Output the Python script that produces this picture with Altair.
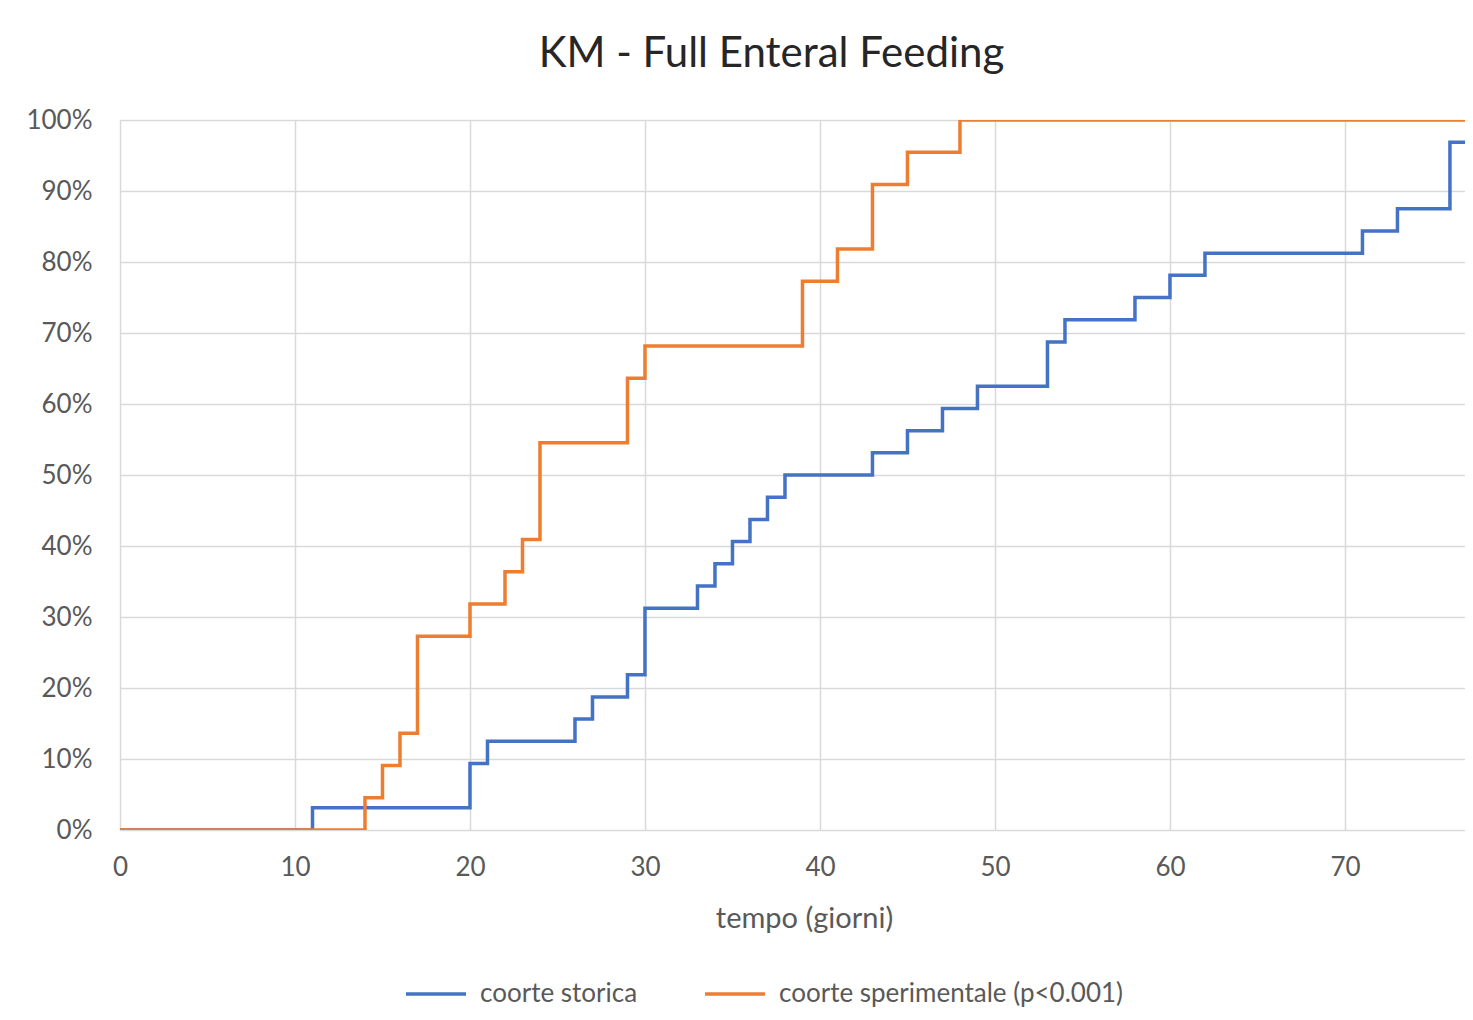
import altair as alt
import pandas as pd

# Kaplan-Meier cumulative incidence (step-after)
storica_days = [0, 11, 20, 21, 26, 27, 29, 30, 33, 34, 35, 36, 37, 38, 43, 45, 47, 49, 53, 54, 58, 60, 62, 71, 73, 76, 78]
storica_pct = [0.0, 3.125, 9.375, 12.5, 15.625, 18.75, 21.875, 31.25, 34.375, 37.5, 40.625, 43.75, 46.875, 50.0,
               53.125, 56.25, 59.375, 62.5, 68.75, 71.875, 75.0, 78.125, 81.25, 84.375, 87.5, 96.875, 96.875]

sperim_days = [0, 14, 15, 16, 17, 20, 22, 23, 24, 29, 30, 39, 41, 43, 45, 48, 78]
sperim_pct = [0.0, 4.545, 9.091, 13.636, 27.273, 31.818, 36.364, 40.909, 54.545, 63.636, 68.182, 77.273,
              81.818, 90.909, 95.455, 100.0, 100.0]

series_names = ["coorte storica", "coorte sperimentale (p<0.001)"]
series_colors = ["#4472C4", "#ED7D31"]
x_ticks = [0, 10, 20, 30, 40, 50, 60, 70]
y_ticks = [0, 0.1, 0.2, 0.3, 0.4, 0.5, 0.6, 0.7, 0.8, 0.9, 1.0]

rows = []
for d, p in zip(storica_days, storica_pct):
    rows.append({"tempo": d, "valore": p / 100, "coorte": series_names[0]})
for d, p in zip(sperim_days, sperim_pct):
    rows.append({"tempo": d, "valore": p / 100, "coorte": series_names[1]})
df = pd.DataFrame(rows)

FONT = "Lato"
GREY = "#595959"

chart = alt.Chart(df).mark_line(
    interpolate="step-after", strokeWidth=3.5, clip=True
).encode(
    x=alt.X("tempo:Q",
            scale=alt.Scale(domain=[0, 76.86], nice=False, zero=False),
            axis=alt.Axis(values=x_ticks, title="tempo (giorni)", format="d",
                          labelFontSize=26, labelColor=GREY, labelFont=FONT,
                          labelPadding=24, labelFlush=False, ticks=False, domain=False,
                          titleFontSize=29, titleColor=GREY, titleFont=FONT,
                          titleFontWeight="normal", titleX=684, titleY=88,
                          titleBaseline="middle", gridColor="#d9d9d9", gridWidth=1.5)),
    y=alt.Y("valore:Q",
            scale=alt.Scale(domain=[0, 1], nice=False),
            axis=alt.Axis(values=y_ticks, format=".0%", title=None,
                          labelFontSize=26, labelColor=GREY, labelFont=FONT,
                          labelPadding=28, ticks=False, domain=False,
                          gridColor="#d9d9d9", gridWidth=1.5)),
    color=alt.Color("coorte:N",
                    scale=alt.Scale(domain=series_names, range=series_colors),
                    sort=series_names,
                    legend=alt.Legend(title=None, orient="none", direction="horizontal",
                                      legendX=284, legendY=842,
                                      symbolType="stroke", symbolSize=3600, symbolStrokeWidth=3.5,
                                      labelFontSize=26, labelColor=GREY, labelFont=FONT,
                                      labelLimit=500, columnPadding=60, labelOffset=12)),
    detail="coorte:N",
).properties(
    width=1345,
    height=710,
    title=alt.TitleParams("KM - Full Enteral Feeding", font=FONT, fontSize=42,
                          fontWeight="normal", color="#262626", anchor="middle",
                          frame="group", dx=-21, offset=31),
    autosize=alt.AutoSizeParams(type="none"),
    padding={"left": 112, "top": 112, "right": 0, "bottom": 182},
).configure_view(
    stroke=None
).configure(background="white")

chart.save("out.html", embed_options={"renderer": "svg", "actions": False})
